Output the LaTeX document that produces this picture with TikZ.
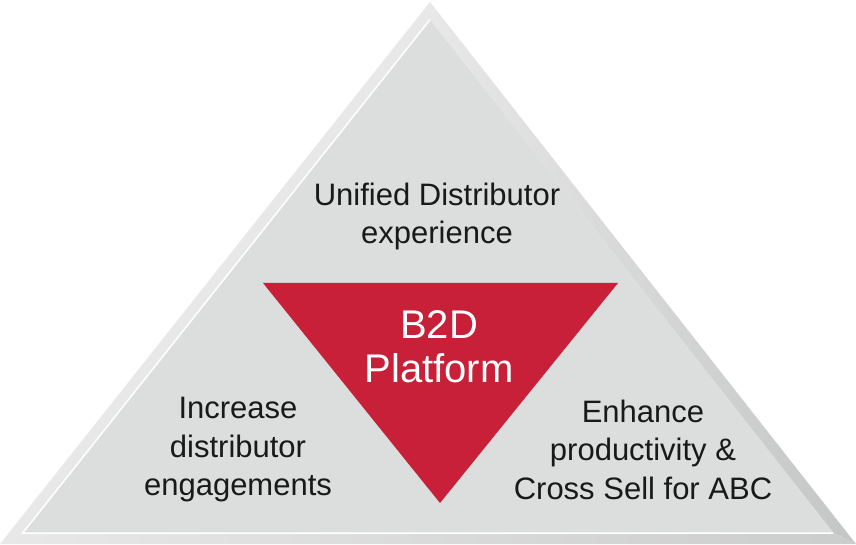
\documentclass[tikz,border=0pt]{standalone}
\usepackage{fontspec}
\setmainfont{Liberation Sans}
\usepackage{xcolor}
\usepackage{tikz}

\definecolor{facegray}{RGB}{220,221,221}
\definecolor{lightbevel}{RGB}{232,232,232}
\definecolor{darkbevel}{RGB}{196,197,197}
\definecolor{b2dred}{RGB}{200,32,56}

\begin{document}
\begin{tikzpicture}[x=1pt,y=1pt,
    goaltext/.style={align=center,text=black!90,font=\fontsize{31}{38.5}\selectfont},
    coretext/.style={align=center,text=white,font=\fontsize{40}{44}\selectfont}]
    \useasboundingbox (0,0) rectangle (856,544);

    % Outer triangle and its bevel
    \coordinate (botleft) at (0,0);
    \coordinate (botright) at (856,0);
    \coordinate (apex) at (430,542);
    \coordinate (inleft) at (22.7,11);
    \coordinate (inright) at (833.4,11);
    \coordinate (inapex) at (430,524.3);
    \fill[lightbevel] (botleft) -- (apex) -- (inapex) -- (inleft) -- cycle;
    \shade[left color=lightbevel, right color=darkbevel]
        (botright) -- (apex) -- (inapex) -- (inright) -- cycle;
    \shade[left color=lightbevel, right color=darkbevel!80!lightbevel]
        (botleft) -- (botright) -- (inright) -- (inleft) -- cycle;

    % Face
    \fill[facegray] (inleft) -- (inright) -- (inapex) -- cycle;
    \draw[white,line width=1.5pt] (inapex) -- (inleft) -- (inright);

    % Red core triangle
    \fill[b2dred] (263,261) coordinate (redleft) -- (618,261) coordinate (redright)
        -- (440,41) coordinate (redtip) -- cycle;

    % Texts
    \node[goaltext] (unified) at (437,327.5) {Unified Distributor\\experience};
    \node[coretext] (b2d) at (439,197) {B2D\\Platform};
    \node[goaltext] (increase) at (238,94) {Increase\\distributor\\engagements};
    \node[goaltext] (enhance) at (643,94.5) {Enhance\\productivity \&\\Cross Sell for ABC};
\end{tikzpicture}
\end{document}
